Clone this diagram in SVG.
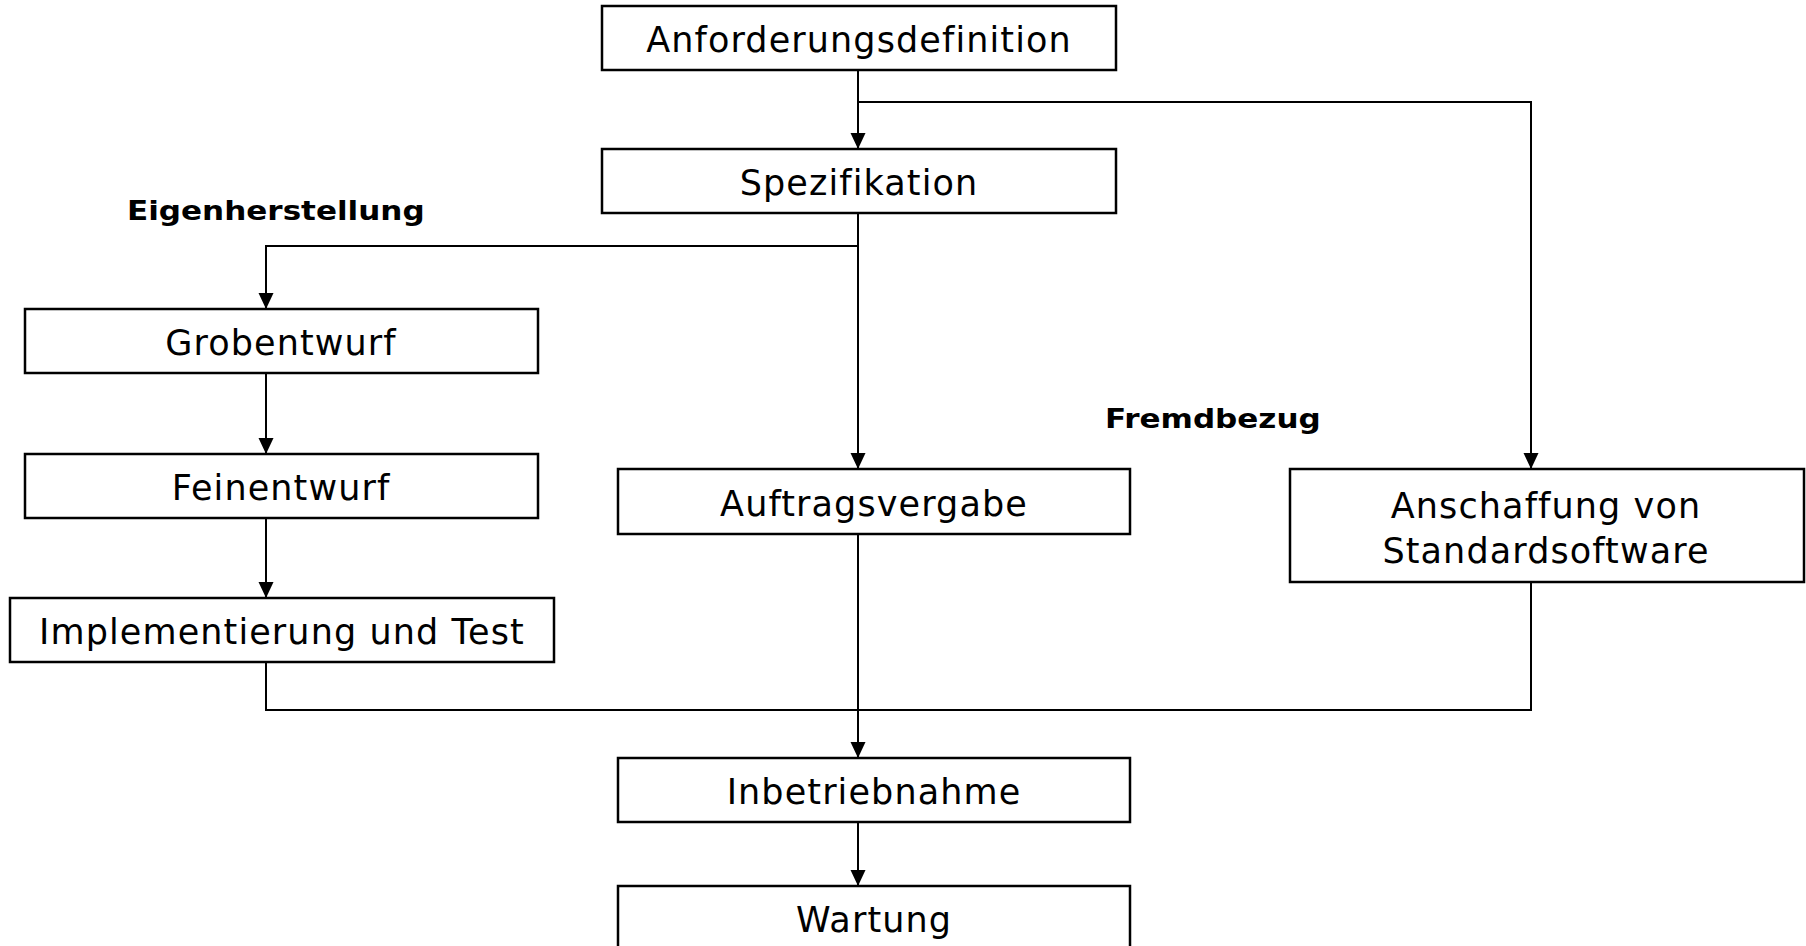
<svg xmlns="http://www.w3.org/2000/svg" width="1806" height="946" viewBox="0 0 1806 946">
<style>
.box{fill:#fff;stroke:#000;stroke-width:2.5}
.t{font-family:"DejaVu Sans",Verdana,sans-serif;font-size:35px;letter-spacing:1.1px;text-anchor:middle;fill:#000}
.lbl{font-family:"DejaVu Sans",Verdana,sans-serif;font-size:27px;font-weight:bold;fill:#000}
.c{fill:none;stroke:#000;stroke-width:2}
</style>
<defs>
<marker id="arr" markerWidth="16" markerHeight="16" refX="16" refY="7.5" orient="auto" markerUnits="userSpaceOnUse">
<path d="M0,0 L16,7.5 L0,15 z" fill="#000"/>
</marker>
</defs>
<rect width="1806" height="946" fill="#fff"/>
<g id="connectors">
<path class="c" d="M858,70 V149" marker-end="url(#arr)"/>
<path class="c" d="M858,102 H1531 V469" marker-end="url(#arr)"/>
<path class="c" d="M858,213 V469" marker-end="url(#arr)"/>
<path class="c" d="M858,246 H266 V309" marker-end="url(#arr)"/>
<path class="c" d="M266,373 V454" marker-end="url(#arr)"/>
<path class="c" d="M266,518 V598" marker-end="url(#arr)"/>
<path class="c" d="M266,662 V710 H1531 V582"/>
<path class="c" d="M858,534 V758" marker-end="url(#arr)"/>
<path class="c" d="M858,822 V886" marker-end="url(#arr)"/>
</g>
<g id="n-anforderung"><rect class="box" x="602" y="6" width="514" height="64"/><text class="t" x="859" y="52">Anforderungsdefinition</text></g>
<g id="n-spezifikation"><rect class="box" x="602" y="149" width="514" height="64"/><text class="t" x="859" y="195">Spezifikation</text></g>
<g id="n-grobentwurf"><rect class="box" x="25" y="309" width="513" height="64"/><text class="t" x="281" y="355">Grobentwurf</text></g>
<g id="n-feinentwurf"><rect class="box" x="25" y="454" width="513" height="64"/><text class="t" x="281" y="500">Feinentwurf</text></g>
<g id="n-implementierung"><rect class="box" x="10" y="598" width="544" height="64"/><text class="t" x="282" y="644">Implementierung und Test</text></g>
<g id="n-auftragsvergabe"><rect class="box" x="618" y="469" width="512" height="65"/><text class="t" x="874" y="516">Auftragsvergabe</text></g>
<g id="n-anschaffung"><rect class="box" x="1290" y="469" width="514" height="113"/><text class="t" x="1546" y="518">Anschaffung von</text><text class="t" x="1546" y="563">Standardsoftware</text></g>
<g id="n-inbetriebnahme"><rect class="box" x="618" y="758" width="512" height="64"/><text class="t" x="874" y="804">Inbetriebnahme</text></g>
<g id="n-wartung"><rect class="box" x="618" y="886" width="512" height="64"/><text class="t" x="874" y="932">Wartung</text></g>
<g id="labels">
<text class="lbl" transform="translate(127,220) scale(1.15,1)">Eigenherstellung</text>
<text class="lbl" transform="translate(1105,428) scale(1.15,1)">Fremdbezug</text>
</g>
</svg>
